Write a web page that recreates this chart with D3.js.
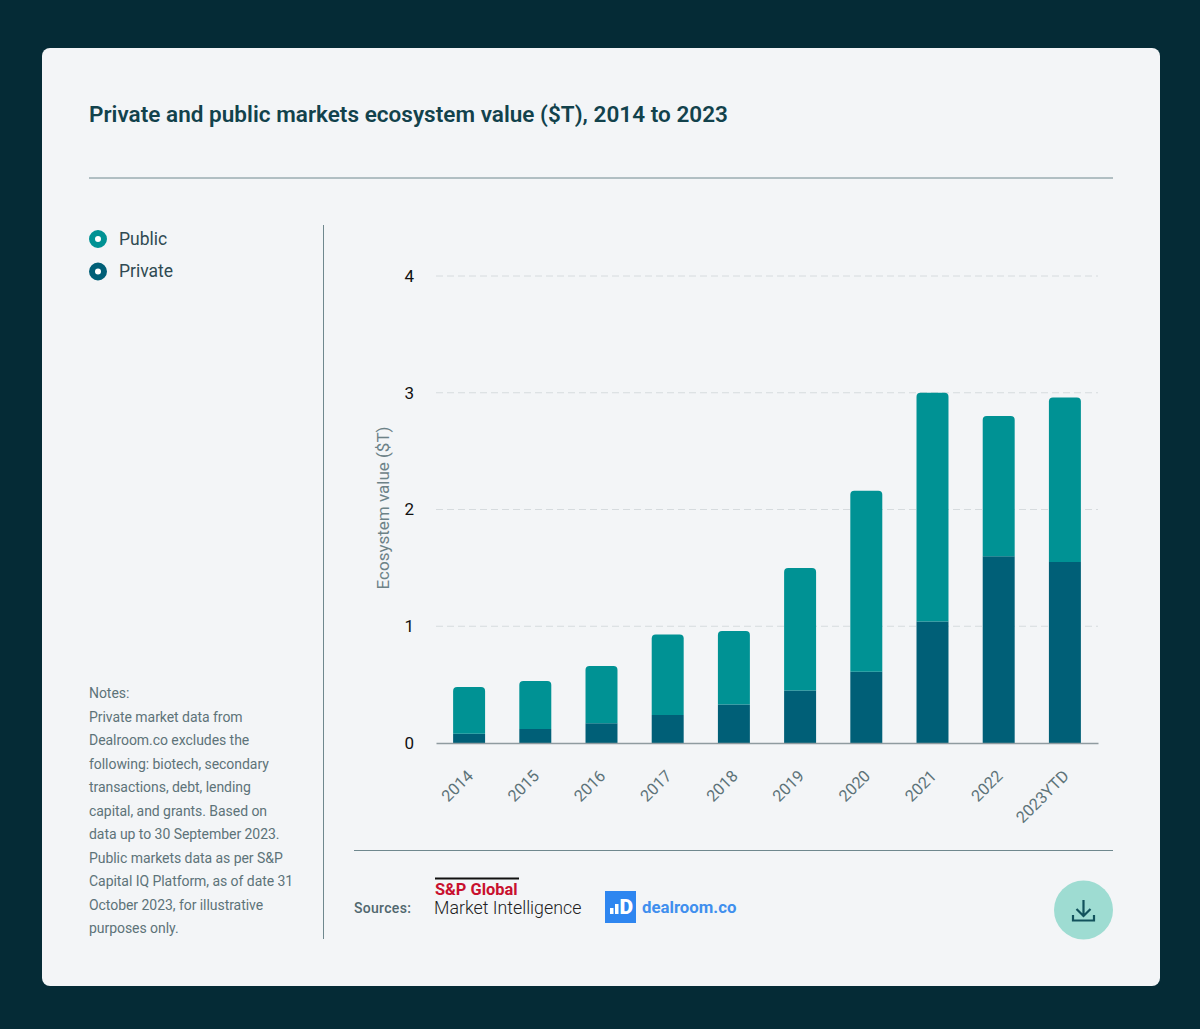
<!DOCTYPE html>
<html>
<head>
<meta charset="utf-8">
<script src="https://cdnjs.cloudflare.com/ajax/libs/d3/7.8.5/d3.min.js"></script>
<style>
html, body { margin: 0; padding: 0; background: #052b36; }
svg { display: block; font-family: Roboto, sans-serif; }
</style>
</head>
<body>
<script>
// values ($T)
var years = ["2014", "2015", "2016", "2017", "2018", "2019", "2020", "2021", "2022", "2023YTD"];
var privateValues = [0.08, 0.12, 0.17, 0.24, 0.33, 0.45, 0.61, 1.04, 1.60, 1.55];
var publicValues = [0.40, 0.41, 0.49, 0.69, 0.63, 1.05, 1.55, 1.96, 1.20, 1.41];
var yTicks = [0, 1, 2, 3, 4];
var legendLabels = ["Public", "Private"];
var noteLines = ["Notes:", "Private market data from", "Dealroom.co excludes the", "following: biotech, secondary",
    "transactions, debt, lending", "capital, and grants. Based on", "data up to 30 September 2023.",
    "Public markets data as per S&P", "Capital IQ Platform, as of date 31", "October 2023, for illustrative", "purposes only."];

var colors = {Public: "#009294", Private: "#005f77"};

var svg = d3.select("body").append("svg").attr("width", 1200).attr("height", 1029);

// card
svg.append("rect").attr("x", 42).attr("y", 48).attr("width", 1118).attr("height", 938).attr("rx", 8).attr("fill", "#f3f5f7");

svg.append("text").attr("x", 89).attr("y", 122).attr("font-size", 22.5).attr("font-weight", 600)
    .attr("letter-spacing", 0.03).attr("fill", "#12424c").text("Private and public markets ecosystem value ($T), 2014 to 2023");

// divider lines
svg.append("line").attr("x1", 89).attr("x2", 1113).attr("y1", 178).attr("y2", 178).attr("stroke", "#6f888e");
svg.append("line").attr("x1", 323.5).attr("x2", 323.5).attr("y1", 225).attr("y2", 939).attr("stroke", "#6f888e");
svg.append("line").attr("x1", 354).attr("x2", 1113).attr("y1", 850.5).attr("y2", 850.5).attr("stroke", "#6f888e");

// legend
var legend = svg.selectAll(".legend").data(legendLabels).enter().append("g")
    .attr("class", "legend")
    .attr("transform", function(d, i){ return "translate(98," + (239 + i * 32.5) + ")"; });
legend.append("circle").attr("r", 6).attr("fill", "#fff").attr("stroke-width", 6)
    .attr("stroke", function(d){ return colors[d]; });
legend.append("text").attr("x", 21).attr("y", 5.5).attr("font-size", 17.5).attr("fill", "#2f4a52")
    .text(function(d){ return d; });

// notes
svg.append("g").selectAll("text").data(noteLines).enter().append("text")
    .attr("x", 89).attr("y", function(d, i){ return 698 + i * 23.5; })
    .attr("font-size", 14).attr("letter-spacing", -0.05).attr("fill", "#5d7379")
    .text(function(d){ return d; });

// scales
var x = d3.scaleBand().domain(years).range([436, 1098]).paddingInner(0.517).paddingOuter(0.2585);
var y = d3.scaleLinear().domain([0, 4]).range([743, 276]);

// grid
svg.append("g").selectAll("line").data(yTicks.slice(1)).enter().append("line")
    .attr("x1", 436).attr("x2", 1098)
    .attr("y1", function(d){ return y(d); }).attr("y2", function(d){ return y(d); })
    .attr("stroke", "#d6dbde").attr("stroke-dasharray", "7,4");

// bars
var table = years.map(function(d, i){ return {year: d, Private: privateValues[i], Public: publicValues[i]}; });
var stacked = d3.stack().keys(["Private", "Public"])(table);

function barPath(d, rounded){
    var x0 = x(d.data.year), x1 = x0 + x.bandwidth(), top = y(d[1]), bottom = y(d[0]);
    var r = rounded ? 4 : 0;
    return "M" + x0 + "," + bottom + "V" + (top + r) + "Q" + x0 + "," + top + " " + (x0 + r) + "," + top +
        "H" + (x1 - r) + "Q" + x1 + "," + top + " " + x1 + "," + (top + r) + "V" + bottom + "Z";
}

svg.selectAll(".series").data(stacked).enter().append("g")
    .attr("class", "series")
    .attr("fill", function(s){ return colors[s.key]; })
    .selectAll("path").data(function(s){ return s.map(function(d){ return {d: d, rounded: s.key === "Public"}; }); })
    .enter().append("path")
    .attr("d", function(p){ return barPath(p.d, p.rounded); });

// axes
var yAxis = svg.append("g").attr("transform", "translate(414,0)")
    .call(d3.axisLeft(y).tickValues(yTicks).tickFormat(d3.format("d")).tickSize(0).tickPadding(0));
yAxis.select(".domain").remove();
yAxis.selectAll("text").attr("font-family", "Roboto, sans-serif").attr("font-size", 17).attr("fill", "#111").attr("dy", "0.32em");

var xAxis = svg.append("g").attr("transform", "translate(0,743)")
    .call(d3.axisBottom(x).tickSize(0).tickPadding(0));
xAxis.select(".domain").attr("stroke", "#8f9ba0").attr("stroke-width", 1.5);
xAxis.selectAll("text")
    .attr("font-family", "Roboto, sans-serif").attr("font-size", 16.2).attr("fill", "#5d7379")
    .attr("text-anchor", "end").attr("dy", 0)
    .attr("transform", "translate(5,34) rotate(-45)");

svg.append("text").attr("transform", "translate(389,508) rotate(-90)").attr("text-anchor", "middle")
    .attr("font-size", 17).attr("fill", "#6d8287").text("Ecosystem value ($T)");

// sources
svg.append("text").attr("x", 354).attr("y", 913).attr("font-size", 14).attr("font-weight", 500)
    .attr("letter-spacing", 0.3).attr("fill", "#50676e").text("Sources:");
svg.append("line").attr("x1", 435).attr("x2", 519).attr("y1", 878.5).attr("y2", 878.5).attr("stroke", "#111").attr("stroke-width", 2);
svg.append("text").attr("x", 435).attr("y", 895).attr("font-size", 16.4).attr("font-weight", 700)
    .attr("fill", "#c8102e").text("S&P Global");
svg.append("text").attr("x", 434).attr("y", 914).attr("font-size", 17.8).attr("font-weight", 300)
    .attr("fill", "#222").text("Market Intelligence");

var logo = svg.append("g").attr("transform", "translate(605,891)");
logo.append("rect").attr("width", 31).attr("height", 32).attr("fill", "#2e86f0");
logo.append("rect").attr("x", 5).attr("y", 17).attr("width", 3.5).attr("height", 6).attr("fill", "#fff");
logo.append("rect").attr("x", 10).attr("y", 13).attr("width", 3.5).attr("height", 10).attr("fill", "#fff");
logo.append("text").attr("x", 14.5).attr("y", 23).attr("font-size", 21).attr("font-weight", 900).attr("fill", "#fff").text("D");
svg.append("text").attr("x", 642).attr("y", 913).attr("font-size", 16.8).attr("font-weight", 700)
    .attr("fill", "#3f8fee").text("dealroom.co");

// download button
var btn = svg.append("g").attr("transform", "translate(1083.5,910)");
btn.append("circle").attr("r", 29.5).attr("fill", "#9edcd2");
btn.append("path").attr("d", "M0,-10V6M-7,-1L0,6L7,-1M-10.5,5V10.5H10.5V5")
    .attr("fill", "none").attr("stroke", "#12525c").attr("stroke-width", 2.2);
</script>
</body>
</html>
